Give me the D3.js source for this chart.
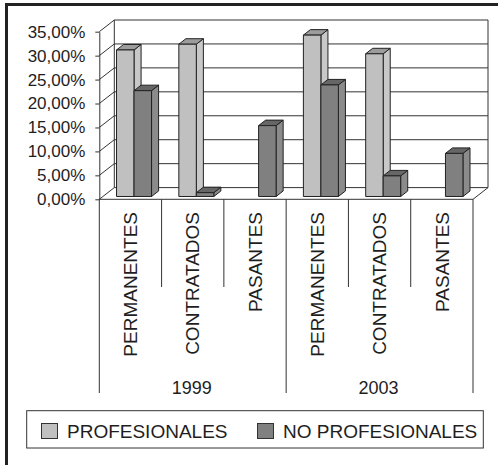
<!DOCTYPE html>
<html>
<head>
<meta charset="utf-8">
<script src="https://cdn.jsdelivr.net/npm/d3@7"></script>
<style>
  html, body { margin: 0; padding: 0; background: #fff; }
  svg { display: block; font-family: "Liberation Sans", Arial, sans-serif; }
</style>
</head>
<body>
<svg id="chart" width="498" height="465"></svg>
<script>
// Staff composition by year and contract type (share of total)
const years = ["1999", "2003"];
const groups = ["PERMANENTES", "CONTRATADOS", "PASANTES"];
const seriesNames = ["PROFESIONALES", "NO PROFESIONALES"];
const profesionales = [30.6, 31.8, 0, 33.7, 29.8, 0];
const noProfesionales = [22.1, 0.8, 14.8, 23.3, 4.3, 9.0];
const yTicks = [0, 5, 10, 15, 20, 25, 30, 35];

const svg = d3.select("#chart");
const ink = "#1e1e1e";

// plot frame (front plane) and 3D depth vector
const x0 = 99.3, x1 = 473, yBottom = 199.3, yTop = 31.7;
const depth = { dx: 15, dy: -11.7 };
const barFront = 0.24, barBack = 0.71;

const categories = [];
years.forEach(y => groups.forEach(g => categories.push(y + "|" + g)));

const x = d3.scaleBand().domain(categories).range([x0, x1]).padding(0);
const xSeries = d3.scaleBand().domain(seriesNames).range([0, x.bandwidth()])
  .paddingInner(0).paddingOuter(0.78);
const y = d3.scaleLinear().domain([0, 35]).range([yBottom, yTop]);

const fmt = d => d3.format(".2f")(d).replace(".", ",") + "%";

// outer border (top and left)
svg.append("line").attr("x1", 5).attr("x2", 498).attr("y1", 4.5).attr("y2", 4.5)
  .attr("stroke", "#222").attr("stroke-width", 3);
svg.append("line").attr("x1", 6.5).attr("x2", 6.5).attr("y1", 3).attr("y2", 465)
  .attr("stroke", "#222").attr("stroke-width", 3);

// walls: back wall gridlines and side-wall diagonals
const walls = svg.append("g").attr("stroke", "#333").attr("stroke-width", 1).attr("fill", "none");
yTicks.forEach(t => {
  const yf = y(t);
  walls.append("line")
    .attr("x1", x0 + depth.dx).attr("x2", x1 + depth.dx)
    .attr("y1", yf + depth.dy).attr("y2", yf + depth.dy);
  walls.append("line")
    .attr("x1", x0).attr("x2", x0 + depth.dx)
    .attr("y1", yf).attr("y2", yf + depth.dy);
});
walls.append("line").attr("x1", x0 + depth.dx).attr("x2", x0 + depth.dx)
  .attr("y1", y(35) + depth.dy).attr("y2", y(0) + depth.dy);
walls.append("line").attr("x1", x1 + depth.dx).attr("x2", x1 + depth.dx)
  .attr("y1", y(35) + depth.dy).attr("y2", y(0) + depth.dy);
// floor front edge and right edge
walls.append("line").attr("x1", x0).attr("x2", x1).attr("y1", yBottom).attr("y2", yBottom);
walls.append("line").attr("x1", x1).attr("x2", x1 + depth.dx)
  .attr("y1", yBottom).attr("y2", yBottom + depth.dy);

// value axis
const yAxis = svg.append("g").attr("transform", `translate(${x0},0)`)
  .call(d3.axisLeft(y).tickValues(yTicks).tickFormat(fmt).tickSize(4).tickSizeOuter(0));
yAxis.select(".domain").attr("stroke", "#333");
yAxis.selectAll(".tick line").attr("stroke", "#333");
yAxis.selectAll(".tick text").attr("x", -14).attr("font-size", 17).attr("fill", ink)
  .attr("font-family", "Liberation Sans, Arial, sans-serif");

// bars
const colors = {
  "PROFESIONALES": { front: "#c0c0c0", side: "#c8c8c8", top: "#9c9c9c" },
  "NO PROFESIONALES": { front: "#808080", side: "#8b8b8b", top: "#666666" }
};
const rows = [];
categories.forEach((c, i) => {
  rows.push({ cat: c, s: seriesNames[0], v: profesionales[i] });
  rows.push({ cat: c, s: seriesNames[1], v: noProfesionales[i] });
});

const barsG = svg.append("g").attr("stroke", "#222").attr("stroke-width", 1).attr("stroke-linejoin", "round");
const ax = depth.dx * barFront, ay = depth.dy * barFront;
const bdx = depth.dx * (barBack - barFront), bdy = depth.dy * (barBack - barFront);
rows.filter(d => d.v > 0).forEach(d => {
  const left = x(d.cat) + xSeries(d.s) + ax;
  const right = left + xSeries.bandwidth();
  const bot = y(0) + ay;
  const top = y(d.v) + ay;
  const col = colors[d.s];
  const g = barsG.append("g");
  g.append("path").attr("fill", col.side)
    .attr("d", `M${right},${bot}L${right + bdx},${bot + bdy}L${right + bdx},${top + bdy}L${right},${top}Z`);
  g.append("path").attr("fill", col.top)
    .attr("d", `M${left},${top}L${left + bdx},${top + bdy}L${right + bdx},${top + bdy}L${right},${top}Z`);
  g.append("rect").attr("fill", col.front)
    .attr("x", left).attr("y", top).attr("width", right - left).attr("height", bot - top);
});

// category dividers below the floor
const dividers = svg.append("g").attr("stroke", "#333").attr("stroke-width", 1);
categories.forEach((c, i) => {
  const xe = x(c);
  const long = i % groups.length === 0;
  dividers.append("line").attr("x1", xe).attr("x2", xe)
    .attr("y1", yBottom).attr("y2", long ? 393 : 287);
});
dividers.append("line").attr("x1", x1).attr("x2", x1).attr("y1", yBottom).attr("y2", 393);

// category labels (rotated)
categories.forEach(c => {
  const cx = x(c) + x.bandwidth() / 2;
  svg.append("text")
    .attr("transform", `translate(${cx + 6.7},212) rotate(-90)`)
    .attr("text-anchor", "end").attr("font-size", 19).attr("fill", ink)
    .text(c.split("|")[1]);
});

// year labels
years.forEach((yr, i) => {
  const a = x(yr + "|" + groups[0]);
  const b = x(yr + "|" + groups[groups.length - 1]) + x.bandwidth();
  svg.append("text").attr("x", (a + b) / 2 - 1).attr("y", 394)
    .attr("text-anchor", "middle").attr("font-size", 18).attr("fill", ink).text(yr);
});

// legend
const legend = svg.append("g");
legend.append("rect").attr("x", 26.7).attr("y", 410.7).attr("width", 456.6).attr("height", 37.3)
  .attr("fill", "#fff").attr("stroke", "#333").attr("stroke-width", 1);
const legendX = [41, 257];
seriesNames.forEach((s, i) => {
  legend.append("rect").attr("x", legendX[i] + 0.5).attr("y", 423.5).attr("width", 16).attr("height", 15)
    .attr("fill", colors[s].front).attr("stroke", "#333").attr("stroke-width", 1);
  legend.append("text").attr("x", legendX[i] + 26).attr("y", 437.7)
    .attr("font-size", 19).attr("fill", ink).text(s);
});
</script>
</body>
</html>
